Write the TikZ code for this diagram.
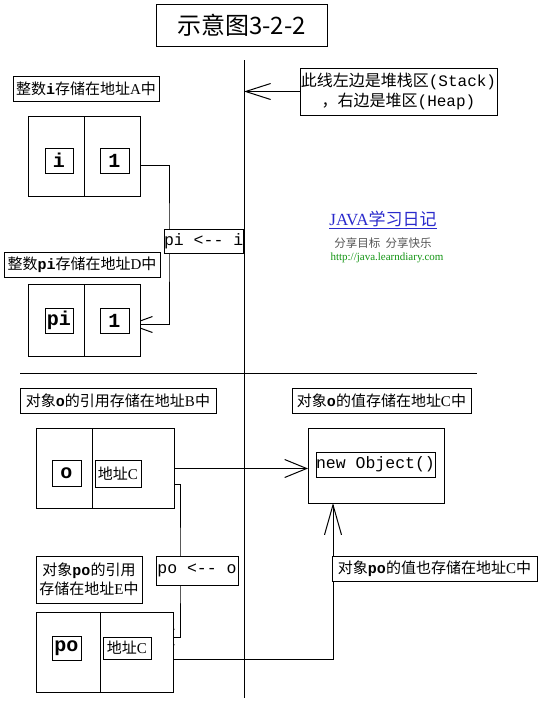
\documentclass[tikz,border=0pt]{standalone}
\usepackage{fontspec}
\setmainfont{Liberation Serif}
\newfontfamily\cjk{Noto Sans CJK SC}
\newfontfamily\mono{Liberation Mono}
\usetikzlibrary{arrows.meta,backgrounds}
\newcommand\zhs[1]{{\cjk #1}}
\newcommand\mbf[1]{{\mono\bfseries #1}}
\definecolor{wmblue}{HTML}{2A2ACC}
\definecolor{wmgray}{HTML}{555555}
\definecolor{wmgreen}{HTML}{129412}
\begin{document}
\begin{tikzpicture}[x=1pt,y=-1pt,
  box/.style={draw, line width=1pt, fill=white, inner sep=0pt, outer sep=0pt, anchor=north west},
  lab/.style={box, font=\fontsize{15}{19}\selectfont, align=center},
  cell/.style={box, font=\mono\bfseries\fontsize{20}{20}\selectfont},
  monobox/.style={box, font=\mono\fontsize{16.5}{18}\selectfont},
  conn/.style={draw, line width=1pt},
  arr/.style={-{Straight Barb[length=22pt,width=16pt,line width=1pt]}},
  divline/.style={draw, line width=1pt}
]
\useasboundingbox (0,0) rectangle (541,702);
% title
\node[box, minimum width=171pt, minimum height=42pt, font=\cjk\fontsize{24}{26}\selectfont] (title) at (156,4) {示意图3-2-2};
% dividing lines
\coordinate (vtop) at (244,60);
\coordinate (vbot) at (244,698);
\coordinate (hl) at (20,373);
\coordinate (hr) at (477,373);
\draw[divline] (vtop) -- (vbot);
\draw[divline] (hl) -- (hr);
% stack / heap note
\node[lab, minimum width=197pt, minimum height=47pt, font=\fontsize{16}{20}\selectfont] (stack) at (300,68)
  {\zhs{此线左边是堆栈区}{\mono(Stack)}\\\zhs{，右边是堆区}{\mono(Heap)}};
% integer i
\node[lab, minimum width=146pt, minimum height=25pt] (labA) at (13,76) {\zhs{整数}\mbf{i}\zhs{存储在地址}A\zhs{中}};
\node[box, minimum width=56pt, minimum height=80pt] (aL) at (28,116) {};
\node[box, minimum width=56pt, minimum height=80pt] (aR) at (84,116) {};
\node[cell, minimum width=28pt, minimum height=25pt] (ai) at (45,148) {i};
\node[cell, minimum width=29pt, minimum height=25pt] (a1) at (100,148) {1};
\node[monobox, minimum width=76pt, minimum height=24pt] (mid1) at (164,229) {pi <-{}- i};
% integer pi
\node[lab, minimum width=156pt, minimum height=25pt] (labD) at (4,252) {\zhs{整数}\mbf{pi}\zhs{存储在地址}D\zhs{中}};
\node[box, minimum width=56pt, minimum height=72pt] (dL) at (28,284) {};
\node[box, minimum width=56pt, minimum height=72pt] (dR) at (84,284) {};
\node[cell, minimum width=28pt, minimum height=25pt] (dpi) at (45,308) {pi};
\node[cell, minimum width=29pt, minimum height=25pt] (d1) at (100,308) {1};
% watermark
\node[font=\fontsize{17}{19}\selectfont, text=wmblue, inner sep=0pt] (wm1) at (383,220) {\underline{JAVA\zhs{学习日记}}};
\node[font=\cjk\fontsize{11.5}{13}\selectfont, text=wmgray, inner sep=0pt] (wm2) at (383,243) {分享目标\ \ 分享快乐};
\node[font=\fontsize{11}{13}\selectfont, text=wmgreen, inner sep=0pt] (wm3) at (387,258) {http://java.learndiary.com};
% object o
\node[lab, minimum width=196pt, minimum height=25pt] (labB) at (20,388) {\zhs{对象}\mbf{o}\zhs{的引用存储在地址}B\zhs{中}};
\node[box, minimum width=56pt, minimum height=80pt] (bL) at (36,428) {};
\node[box, minimum width=82pt, minimum height=80pt] (bR) at (92,428) {};
\node[cell, minimum width=29pt, minimum height=26pt] (bo) at (52,460) {o};
\node[lab, minimum width=46pt, minimum height=27pt] (bC) at (95,460) {\zhs{地址}C};
% heap
\node[lab, minimum width=179pt, minimum height=25pt] (labC) at (292,388) {\zhs{对象}\mbf{o}\zhs{的值存储在地址}C\zhs{中}};
\node[box, minimum width=136pt, minimum height=75pt] (heap) at (308,428) {};
\node[monobox, minimum width=119pt, minimum height=25pt] (obj) at (316,452) {new Object()};
% object po
\node[monobox, minimum width=82pt, minimum height=29pt] (mid2) at (156,556) {po <-{}- o};
\node[lab, minimum width=106pt, minimum height=47pt] (labE) at (36,556) {\zhs{对象}\mbf{po}\zhs{的引用}\\\zhs{存储在地址}E\zhs{中}};
\node[lab, minimum width=205pt, minimum height=25pt] (labF) at (332,556) {\zhs{对象}\mbf{po}\zhs{的值也存储在地址}C\zhs{中}};
\node[box, minimum width=64pt, minimum height=80pt] (eL) at (36,612) {};
\node[box, minimum width=73pt, minimum height=80pt] (eR) at (100,612) {};
\node[cell, minimum width=29pt, minimum height=24pt] (epo) at (52,636) {po};
\node[lab, minimum width=48pt, minimum height=22pt] (eC) at (103,637) {\zhs{地址}C};
% connectors
\coordinate (xa) at (169,240);
\coordinate (xb) at (180,570);
\coordinate (a1o) at ([yshift=-5pt]a1.east);
\coordinate (d1i) at ([yshift=-4pt]d1.east);
\coordinate (bCo) at ([yshift=5pt]bC.east);
\coordinate (bCs) at ([yshift=3pt]bC.south east);
\begin{scope}[on background layer]
\draw[conn,arr] (a1o) -| (xa) |- (d1i);
\draw[conn,arr] (bCs) -| (xb) |- (eC.north east);
\draw[conn,-{Straight Barb[length=22pt,width=18pt,line width=1pt]}] (bCo) -- (bCo -| heap.west);
\draw[conn,-{Straight Barb[length=30pt,width=17pt,line width=1pt]}] (eC.south east) -| ([xshift=25pt]heap.south west);
\end{scope}
\draw[conn,-{Straight Barb[length=25pt,width=16pt,line width=1pt]}] (stack.west) -- (stack.west -| vtop);
\end{tikzpicture}
\end{document}
